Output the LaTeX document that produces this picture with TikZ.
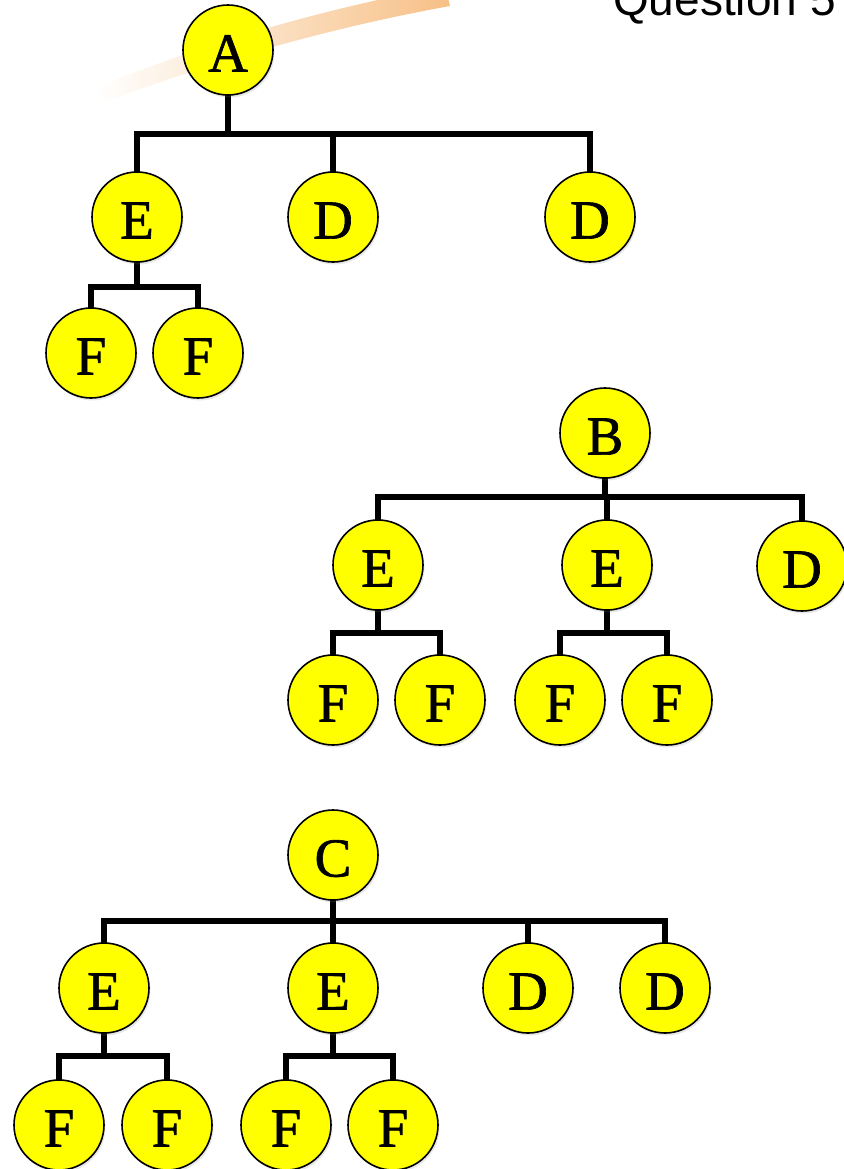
\documentclass[tikz,border=0pt]{standalone}
\usepackage{fontspec}
\newfontfamily\headsans{Liberation Sans}
\newfontfamily\letterserif[FakeBold=1.2]{Liberation Serif}
\usetikzlibrary{shadows,backgrounds}
\definecolor{nodeyellow}{RGB}{255,255,0}
\definecolor{swooshorange}{RGB}{247,192,134}

\begin{document}
\begin{tikzpicture}[x=1pt,y=-1pt,
  vertex/.style={circle, draw=black, line width=1.6pt, fill=nodeyellow,
    minimum size=90pt, inner sep=0pt, text height=43pt, text depth=0pt,
    font=\letterserif\fontsize{55}{55}\selectfont,
    drop shadow={opacity=0.18, shadow xshift=1.5pt, shadow yshift=-2.5pt}},
  edge/.style={line width=5.5pt, line cap=rect, draw=black}]

\useasboundingbox (0,0) rectangle (843,1169);

% decorative orange swoosh in the top left
\shade[left color=white, right color=swooshorange]
  (105,84) .. controls (220,38) and (330,8) .. (445,-14)
  -- (450,6) .. controls (340,26) and (225,57) .. (108,101)
  .. controls (95,98) and (95,88) .. (105,84) -- cycle;

% heading
\node[anchor=base west, inner sep=0pt, font=\headsans\fontsize{46}{46}\selectfont]
  (title) at (613,16) {Question 5};

% ---------- tree rooted at A ----------
\node[vertex] (A)  at (228,50)  {A};
\node[vertex] (a1) at (137,217) {E};
\node[vertex] (a2) at (333,217) {D};
\node[vertex] (a3) at (590,217) {D};
\node[vertex] (a11) at (91,353)  {F};
\node[vertex] (a12) at (198,353) {F};
\coordinate (busA)  at (0,134);
\coordinate (busa1) at (0,287);

% ---------- tree rooted at B ----------
\node[vertex] (B)  at (605,433) {B};
\node[vertex] (b1) at (378,565) {E};
\node[vertex] (b2) at (607,565) {E};
\node[vertex] (b3) at (802,566) {D};
\node[vertex] (b11) at (333,700) {F};
\node[vertex] (b12) at (440,700) {F};
\node[vertex] (b21) at (560,700) {F};
\node[vertex] (b22) at (667,700) {F};
\coordinate (busB)  at (0,497);
\coordinate (busb)  at (0,633);

% ---------- tree rooted at C ----------
\node[vertex] (C)  at (333,855) {C};
\node[vertex] (c1) at (104,988) {E};
\node[vertex] (c2) at (333,988) {E};
\node[vertex] (c3) at (528,988) {D};
\node[vertex] (c4) at (665,988) {D};
\node[vertex] (c11) at (59,1125)  {F};
\node[vertex] (c12) at (167,1125) {F};
\node[vertex] (c21) at (286,1125) {F};
\node[vertex] (c22) at (393,1125) {F};
\coordinate (busC)  at (0,921);
\coordinate (busc)  at (0,1056);

% connectors: parent stem, horizontal bus, child stems
\begin{pgfonlayer}{background}
  % tree A
  \draw[edge] (A.south) -- (A.south |- busA);
  \draw[edge] (a1.north |- busA) -- (a3.north |- busA);
  \foreach \k in {a1,a2,a3} \draw[edge] (\k.north) -- (\k.north |- busA);
  \draw[edge] (a1.south) -- (a1.south |- busa1);
  \draw[edge] (a11.north |- busa1) -- (a12.north |- busa1);
  \foreach \k in {a11,a12} \draw[edge] (\k.north) -- (\k.north |- busa1);
  % tree B
  \draw[edge] (B.south) -- (B.south |- busB);
  \draw[edge] (b1.north |- busB) -- (b3.north |- busB);
  \foreach \k in {b1,b2,b3} \draw[edge] (\k.north) -- (\k.north |- busB);
  \draw[edge] (b1.south) -- (b1.south |- busb);
  \draw[edge] (b11.north |- busb) -- (b12.north |- busb);
  \foreach \k in {b11,b12} \draw[edge] (\k.north) -- (\k.north |- busb);
  \draw[edge] (b2.south) -- (b2.south |- busb);
  \draw[edge] (b21.north |- busb) -- (b22.north |- busb);
  \foreach \k in {b21,b22} \draw[edge] (\k.north) -- (\k.north |- busb);
  % tree C
  \draw[edge] (C.south) -- (C.south |- busC);
  \draw[edge] (c1.north |- busC) -- (c4.north |- busC);
  \foreach \k in {c1,c2,c3,c4} \draw[edge] (\k.north) -- (\k.north |- busC);
  \draw[edge] (c1.south) -- (c1.south |- busc);
  \draw[edge] (c11.north |- busc) -- (c12.north |- busc);
  \foreach \k in {c11,c12} \draw[edge] (\k.north) -- (\k.north |- busc);
  \draw[edge] (c2.south) -- (c2.south |- busc);
  \draw[edge] (c21.north |- busc) -- (c22.north |- busc);
  \foreach \k in {c21,c22} \draw[edge] (\k.north) -- (\k.north |- busc);
\end{pgfonlayer}
\end{tikzpicture}
\end{document}
